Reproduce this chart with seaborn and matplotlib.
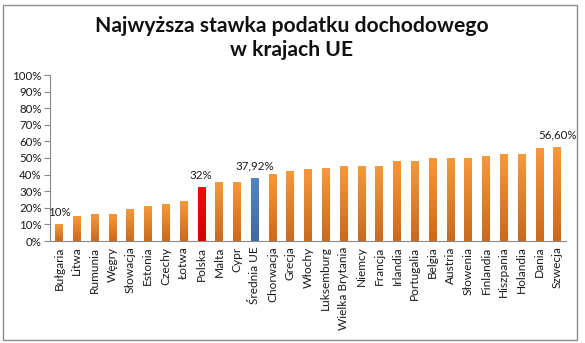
import numpy as np
import pandas as pd
import matplotlib
matplotlib.use("Agg")
import matplotlib.pyplot as plt
import seaborn as sns
from matplotlib.colors import LinearSegmentedColormap
from matplotlib.patches import Rectangle

# Top personal income tax rate, EU countries (%)
countries = [
    "Bułgaria", "Litwa", "Rumunia", "Węgry", "Słowacja", "Estonia", "Czechy",
    "Łotwa", "Polska", "Malta", "Cypr", "Średnia UE", "Chorwacja", "Grecja",
    "Włochy", "Luksemburg", "Wielka Brytania", "Niemcy", "Francja", "Irlandia",
    "Portugalia", "Belgia", "Austria", "Słowenia", "Finlandia", "Hiszpania",
    "Holandia", "Dania", "Szwecja",
]
rates = [
    10, 15, 16, 16, 19, 21, 22,
    24, 32, 35, 35, 37.92, 40, 42,
    43, 43.6, 45, 45, 45, 48,
    48, 50, 50, 50, 51, 52,
    52, 55.6, 56.6,
]
labelled = ["Bułgaria", "Polska", "Średnia UE", "Szwecja"]
highlight = {"Polska": "poland", "Średnia UE": "average"}

title = "Najwyższa stawka podatku dochodowego\nw krajach UE"
yticks = list(range(0, 101, 10))

gradients = {
    "default": ("#F8983A", "#C96A1F"),
    "poland": ("#F60A0A", "#D40000"),
    "average": ("#5385C2", "#40699E"),
}

df = pd.DataFrame({"kraj": countries, "stawka": rates})
df["grupa"] = [highlight.get(c, "default") for c in countries]

sns.set_theme(style="white")
plt.rcParams["font.family"] = ["Lato", "DejaVu Sans"]

fig = plt.figure(figsize=(5.85, 3.43), dpi=100)
ax = fig.add_axes([50 / 585, 1 - 241 / 343, 516 / 585, 166 / 343])

palette = {k: v[0] for k, v in gradients.items()}
sns.barplot(data=df, x="kraj", y="stawka", hue="grupa", palette=palette,
            dodge=False, width=0.42, legend=False, ax=ax, saturation=1)

# vertical gradient fill on every bar
for patch in ax.patches:
    h = patch.get_height()
    if h <= 0:
        continue
    x0 = patch.get_x()
    w = patch.get_width()
    fc = matplotlib.colors.to_hex(patch.get_facecolor())
    grp = next((k for k, v in gradients.items() if v[0].lower() == fc.lower()), "default")
    top, bottom = gradients[grp]
    cmap = LinearSegmentedColormap.from_list("g", [bottom, top])
    grad = np.linspace(0, 1, 64).reshape(-1, 1)
    ax.imshow(grad, extent=[x0, x0 + w, 0, h], origin="lower", aspect="auto",
              cmap=cmap, zorder=3, interpolation="bilinear")

def fmt(v):
    if float(v).is_integer():
        return f"{v:.0f}%"
    return f"{v:.2f}".replace(".", ",") + "%"

for i, (c, v) in enumerate(zip(countries, rates)):
    if c in labelled:
        ax.text(i, v + 4, fmt(v), ha="center", va="bottom", fontsize=8.3,
                color="#1a1a1a", zorder=4)

ax.set_xlim(-0.5, len(countries) - 0.5)
ax.set_ylim(0, 100)
ax.set_yticks(yticks)
ax.set_yticklabels([f"{t}%" for t in yticks], fontsize=8.3, color="#1a1a1a")
ax.set_xticks(range(len(countries)))
ax.set_xticklabels(countries, rotation=90, fontsize=8.6, color="#1a1a1a")
ax.set_xlabel("")
ax.set_ylabel("")

# tick marks between categories
ax.set_xticks(np.arange(-0.5, len(countries), 1), minor=True)
ax.tick_params(axis="x", which="major", length=0, pad=4)
ax.tick_params(axis="x", which="minor", length=4, width=0.8, color="#888888",
               direction="out")
ax.tick_params(axis="y", length=4, width=0.8, color="#888888", direction="out",
               left=True, pad=2)

for side in ["top", "right"]:
    ax.spines[side].set_visible(False)
for side in ["left", "bottom"]:
    ax.spines[side].set_color("#888888")
    ax.spines[side].set_linewidth(0.8)
ax.grid(False)

fig.text(292 / 585, 1 - 38 / 343, title, ha="center", va="center",
         fontsize=15.2, fontweight="bold", linespacing=1.2, color="#111111")

# outer chart frame
fig.patches.append(Rectangle((3 / 585, 3 / 343), 574 / 585, 335 / 343,
                             transform=fig.transFigure, fill=False,
                             edgecolor="#8C8C8C", linewidth=1.0))

fig.savefig("out.png", dpi=100)
